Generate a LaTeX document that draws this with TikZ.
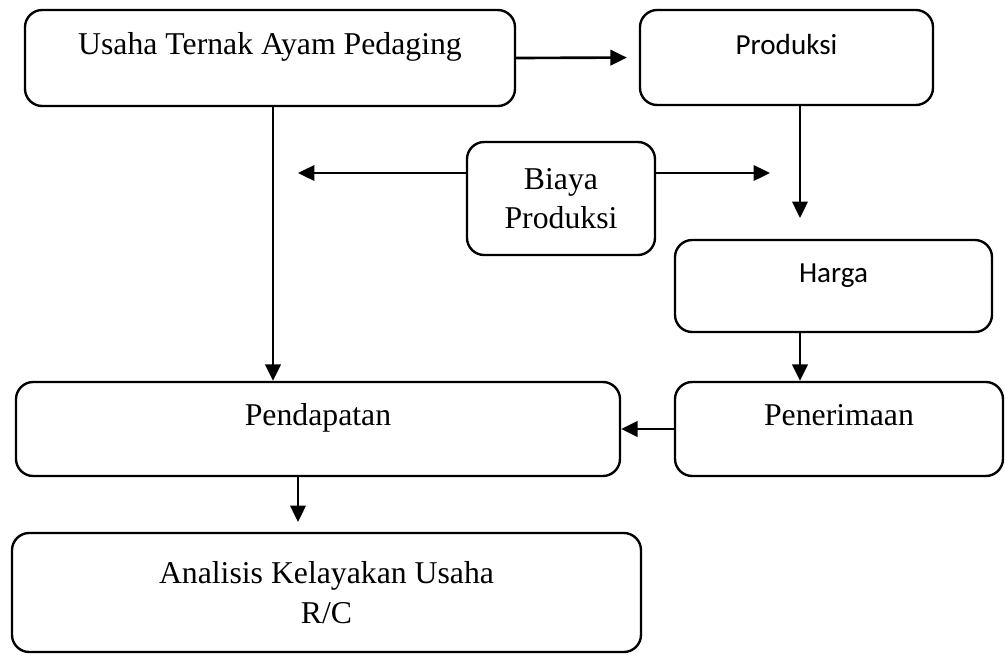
\documentclass[tikz,border=0pt]{standalone}
\usepackage{fontspec}
\setmainfont{Liberation Serif}
\newfontfamily\calibri{Carlito}
\usepackage{tikz}
\usetikzlibrary{arrows.meta}
\newcommand{\pxu}{0.378pt}

\begin{document}
\begin{tikzpicture}[x=\pxu,y=-\pxu,
box/.style 2 args={draw,line width=0.9pt,rounded corners=6.5pt,align=center,inner sep=0pt,
minimum width=#1*\pxu,minimum height=#2*\pxu,font=\fontsize{12}{15}\selectfont},
one/.style={text height=8pt,text depth=10.5pt},
sans/.style={font=\calibri\fontsize{11}{13}\selectfont},
arr/.style={line width=1pt,-{Triangle[length=6.2pt,width=5.8pt]}}]
\useasboundingbox (0,0) rectangle (1005,655);
\node[box={490}{96},one] (usaha) at (270,58) {Usaha Ternak Ayam Pedaging};
\node[box={293}{95},one,sans] (prod) at (786.5,57.5) {Produksi};
\node[box={188}{113}] (biaya) at (561,198.5) {Biaya\\Produksi};
\node[box={317}{92},one,sans] (harga) at (833.5,286) {Harga};
\node[box={604}{94},one] (pend) at (318,429) {Pendapatan};
\node[box={328}{94},one] (pen) at (839,429) {Penerimaan};
\node[box={629}{119}] (analisis) at (326.5,592.5) {Analisis Kelayakan Usaha\\R/C};
\coordinate (bl) at (298,173);
\coordinate (br) at (770,173);
\coordinate (ph) at (800,218);
\coordinate (pa) at (298,522);
\coordinate (ud) at (273,106);
\draw[arr,shorten >=12*\pxu] (usaha.east) -- (prod.west);
\draw[arr] (ud |- usaha.south) -- (ud |- pend.north);
\draw[arr] (bl -| biaya.west) -- (bl);
\draw[arr] (br -| biaya.east) -- (br);
\draw[arr] (ph |- prod.south) -- (ph);
\draw[arr] (ph |- harga.south) -- (ph |- pen.north);
\draw[arr] (pen.west) -- (pend.east);
\draw[arr] (pa |- pend.south) -- (pa);
\end{tikzpicture}
\end{document}
